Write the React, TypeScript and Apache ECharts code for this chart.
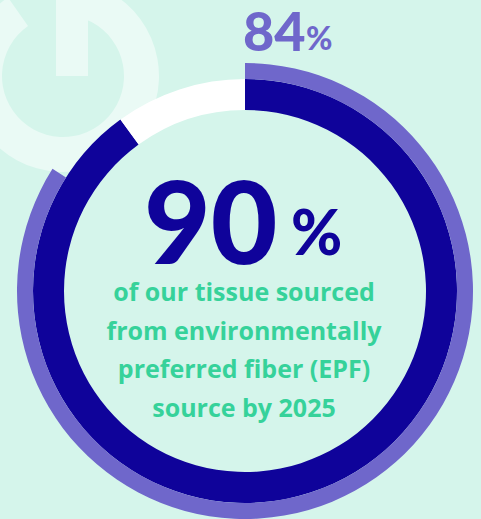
import React, { useEffect, useRef } from "react";
import * as echarts from "echarts";

// Data
const categories = ["Sourced from EPF", "Remaining"];
const goalValues = [90, 10]; // 2025 goal (inner thick ring)
const currentValues = [84, 16]; // current progress (outer thin ring)
const subtitleLines = [
  "of our tissue sourced",
  "from environmentally",
  "preferred fiber (EPF)",
  "source by 2025",
];

const BG = "#d5f5eb";
const ICON = "#eafaf5";
const NAVY = "#0f039a";
const PURPLE = "#6f67cb";
const GREEN = "#36d29a";
const FONT = "Lato, 'Noto Sans', sans-serif";
const SUB_FONT = "'Open Sans', Lato, sans-serif";

export default function App() {
  const ref = useRef<HTMLDivElement>(null);
  useEffect(() => {
    if (!ref.current) return;
    const chart = echarts.init(ref.current, undefined, { renderer: "svg" });
    const deg = Math.PI / 180;
    chart.setOption({
      animation: false,
      backgroundColor: BG,
      graphic: [
        {
          type: "sector",
          z: 0,
          silent: true,
          shape: { cx: 63, cy: 76, r: 96, r0: 61, startAngle: -75 * deg, endAngle: 235 * deg, clockwise: true },
          style: { fill: ICON },
        },
        {
          type: "rect",
          z: 0,
          silent: true,
          shape: { x: 56, y: -10, width: 32, height: 86 },
          style: { fill: ICON },
        },
        {
          type: "text",
          z: 10,
          x: 243,
          y: 30,
          style: { text: String(currentValues[0]), fill: PURPLE, font: `900 54px ${FONT}`, lineHeight: 44, align: "left", verticalAlign: "middle" },
        },
        {
          type: "text",
          z: 10,
          x: 306,
          y: 37,
          style: { text: "%", fill: PURPLE, font: `900 32px ${FONT}`, lineHeight: 28, align: "left", verticalAlign: "middle" },
        },
        {
          type: "text",
          z: 10,
          x: 144,
          y: 219,
          style: { text: String(goalValues[0]), fill: NAVY, font: `900 115px ${FONT}`, lineHeight: 90, align: "left", verticalAlign: "middle" },
        },
        {
          type: "text",
          z: 10,
          x: 291,
          y: 231,
          style: { text: "%", fill: NAVY, font: `900 62px ${FONT}`, lineHeight: 48, align: "left", verticalAlign: "middle" },
        },
        {
          type: "text",
          z: 10,
          x: 244,
          y: 349,
          style: {
            text: subtitleLines.join("\n"),
            fill: GREEN,
            font: `700 25px ${SUB_FONT}`,
            lineHeight: 38.7,
            align: "center",
            verticalAlign: "middle",
          },
        },
      ],
      series: [
        {
          type: "pie",
          name: "goal",
          silent: true,
          center: [245, 291],
          radius: [181, 212],
          startAngle: 90,
          clockwise: true,
          avoidLabelOverlap: false,
          label: { show: false },
          labelLine: { show: false },
          emphasis: { disabled: true },
          itemStyle: { borderWidth: 0 },
          data: categories.map((name, i) => ({
            name,
            value: goalValues[i],
            itemStyle: { color: i === 0 ? NAVY : "#ffffff" },
          })),
        },
        {
          type: "pie",
          name: "current",
          silent: true,
          center: [245, 291],
          radius: [212, 228],
          startAngle: 90,
          clockwise: true,
          avoidLabelOverlap: false,
          label: { show: false },
          labelLine: { show: false },
          emphasis: { disabled: true },
          itemStyle: { borderWidth: 0 },
          data: categories.map((name, i) => ({
            name,
            value: currentValues[i],
            itemStyle: { color: i === 0 ? PURPLE : "rgba(0,0,0,0)" },
          })),
        },
      ],
    });
    return () => chart.dispose();
  }, []);
  return (
    <div
      ref={ref}
      style={{ position: "fixed", left: 0, top: 0, width: 481, height: 519 }}
    />
  );
}
